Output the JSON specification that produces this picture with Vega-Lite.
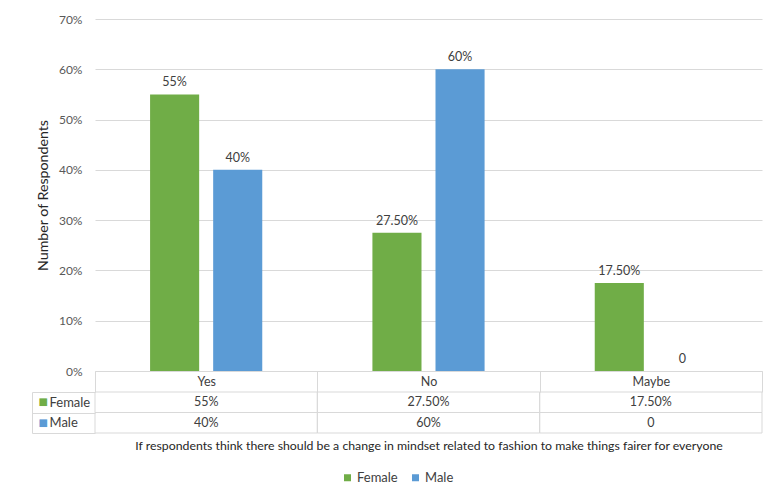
{
  "$schema": "https://vega.github.io/schema/vega-lite/v6.json",
  "padding": {"left": 31, "top": 13, "right": 3, "bottom": 5},
  "background": "white",
  "config": {
    "font": "Lato",
    "view": {"stroke": null},
    "axis": {"labelFont": "Lato", "titleFont": "Lato", "labelFontSize": 12, "titleFontSize": 12.3, "titleFontWeight": "normal"},
    "legend": {"labelFont": "Lato", "labelFontSize": 13}
  },
  "data": {
    "values": [
      {"answer": "Yes", "gender": "Female", "value": 0.55, "label": "55%"},
      {"answer": "Yes", "gender": "Male", "value": 0.40, "label": "40%"},
      {"answer": "No", "gender": "Female", "value": 0.275, "label": "27.50%"},
      {"answer": "No", "gender": "Male", "value": 0.60, "label": "60%"},
      {"answer": "Maybe", "gender": "Female", "value": 0.175, "label": "17.50%"},
      {"answer": "Maybe", "gender": "Male", "value": 0, "label": "0"}
    ]
  },
  "bounds": "flush",
  "spacing": 21,
  "resolve": {"scale": {"color": "shared"}},
  "vconcat": [
    {
      "width": 667,
      "height": 352,
      "encoding": {
        "x": {
          "field": "answer", "type": "nominal", "sort": ["Yes", "No", "Maybe"],
          "scale": {"paddingInner": 0, "paddingOuter": 0},
          "axis": {
            "orient": "bottom", "title": null, "labelAngle": 0,
            "domainColor": "#d9d9d9", "tickColor": "#d9d9d9", "tickSize": 21,
            "tickBand": "extent", "labelPadding": -17, "labelColor": "#404040",
            "labelFontSize": 12.5
          }
        },
        "xOffset": {
          "field": "gender", "type": "nominal", "sort": ["Female", "Male"],
          "scale": {"paddingInner": 0.222, "paddingOuter": 0.873}
        },
        "y": {
          "field": "value", "type": "quantitative",
          "scale": {"domain": [0, 0.7], "nice": false},
          "axis": {
            "format": ".0%", "values": [0, 0.1, 0.2, 0.3, 0.4, 0.5, 0.6, 0.7],
            "domain": false, "ticks": false, "labelPadding": 13,
            "labelColor": "#595959", "gridColor": "#d9d9d9",
            "title": "Number of Respondents", "titleColor": "#262626",
            "titleFontSize": 14.2, "titlePadding": 8
          }
        }
      },
      "layer": [
        {
          "mark": {"type": "bar"},
          "encoding": {
            "color": {
              "field": "gender", "type": "nominal",
              "scale": {"domain": ["Female", "Male"], "range": ["#70AD47", "#5B9BD5"]},
              "legend": {
                "orient": "none", "legendX": 246, "legendY": 452,
                "direction": "horizontal", "title": null, "symbolType": "square",
                "symbolSize": 49, "labelColor": "#404040", "columnPadding": 11,
                "labelOffset": 3, "symbolStrokeWidth": 0
              }
            }
          }
        },
        {
          "mark": {"type": "text", "baseline": "bottom", "dy": -5, "fontSize": 12.5, "color": "#404040"},
          "encoding": {"text": {"field": "label"}}
        }
      ]
    },
    {
      "width": 667,
      "height": 41,
      "encoding": {
        "x": {
          "field": "answer", "type": "nominal", "sort": ["Yes", "No", "Maybe"],
          "scale": {"paddingInner": 0, "paddingOuter": 0},
          "axis": {
            "orient": "bottom", "labels": false, "ticks": false, "domain": false,
            "title": "If respondents think there should be a change in mindset related to fashion to make things fairer for everyone",
            "titleColor": "#262626", "titlePadding": 6
          }
        },
        "y": {
          "field": "gender", "type": "nominal", "sort": ["Female", "Male"],
          "scale": {"paddingInner": 0, "paddingOuter": 0}
        }
      },
      "resolve": {"axis": {"y": "independent"}},
      "layer": [
        {
          "mark": {"type": "rect", "fill": "white", "fillOpacity": 0, "stroke": "#d9d9d9", "strokeWidth": 1},
          "encoding": {
            "y": {
              "field": "gender", "type": "nominal", "sort": ["Female", "Male"],
              "scale": {"paddingInner": 0, "paddingOuter": 0},
              "axis": {
                "orient": "left", "title": null, "domain": false,
                "tickSize": 63, "tickColor": "#d9d9d9", "tickBand": "extent",
                "labelAlign": "left", "labelPadding": -17, "labelColor": "#404040",
                "labelFontSize": 13
              }
            }
          }
        },
        {
          "mark": {"type": "text", "fontSize": 12.5, "color": "#404040"},
          "encoding": {
            "text": {"field": "label"},
            "y": {
              "field": "gender", "type": "nominal", "sort": ["Female", "Male"],
              "scale": {"paddingInner": 0, "paddingOuter": 0},
              "axis": {
                "orient": "left", "title": null, "offset": 63,
                "domain": true, "domainColor": "#d9d9d9", "ticks": false,
                "labelExpr": "'■'", "labelAlign": "left", "labelPadding": -6,
                "labelFont": "DejaVu Sans", "labelFontSize": 10,
                "labelColor": {"condition": {"test": "datum.value === 'Female'", "value": "#70AD47"}, "value": "#5B9BD5"}
              }
            }
          }
        }
      ]
    }
  ]
}
